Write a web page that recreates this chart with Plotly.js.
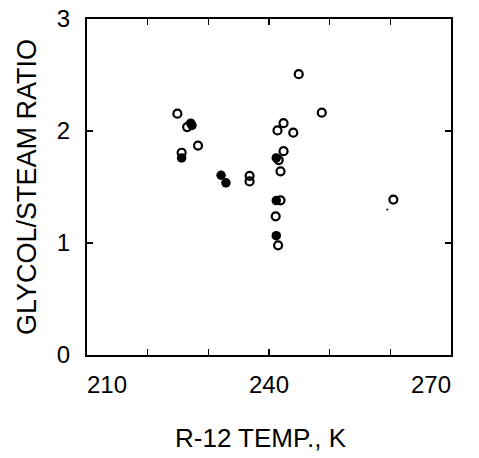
<!DOCTYPE html>
<html>
<head>
<meta charset="utf-8">
<script src="https://cdn.plot.ly/plotly-3.0.1.min.js"></script>
<style>html,body{margin:0;padding:0;background:#fff;}#chart{width:479px;height:458px;}</style>
</head>
<body>
<div id="chart"></div>
<script>
// Open-circle data points (R-12 temperature K, glycol/steam ratio)
const openTemp  = [224.9, 226.5, 228.3, 225.6, 236.8, 236.8, 244.9, 248.7, 242.4, 241.4, 244.0, 242.4, 241.6, 241.9, 241.9, 241.1, 241.5, 260.5];
const openRatio = [2.155, 2.035, 1.87, 1.806, 1.60, 1.55, 2.507, 2.164, 2.07, 2.005, 1.985, 1.82, 1.74, 1.64, 1.381, 1.238, 0.979, 1.388];
// Filled-circle data points
const fillTemp  = [227.3, 227.1, 225.6, 232.1, 232.9, 241.2, 241.2, 241.2];
const fillRatio = [2.05, 2.07, 1.76, 1.605, 1.537, 1.76, 1.379, 1.065];
// Small stray dot
const dotTemp  = [259.5];
const dotRatio = [1.30];
// Axis ticks
const xTickVals = [210, 220, 230, 240, 250, 260, 270];
const xLabelVals = [210, 240, 270];
const xLabelText = ['210', '240', '270'];
const yTickVals = [0, 1, 2, 3];
const yTickText = ['0', '1', '2', '3'];

const fontFam = 'Liberation Sans, Arial, Helvetica, sans-serif';

const traces = [
  {x: openTemp, y: openRatio, type: 'scatter', mode: 'markers',
   marker: {symbol: 'circle-open', size: 8, color: '#000', line: {width: 2.2, color: '#000'}},
   hoverinfo: 'x+y', showlegend: false},
  {x: fillTemp, y: fillRatio, type: 'scatter', mode: 'markers',
   marker: {symbol: 'circle', size: 9.5, color: '#000'},
   hoverinfo: 'x+y', showlegend: false},
  {x: dotTemp, y: dotRatio, type: 'scatter', mode: 'markers',
   marker: {symbol: 'circle', size: 2, color: '#000'},
   hoverinfo: 'x+y', showlegend: false}
];

const xShifts = [20, 0, -20];
const annotations = xLabelVals.map((v, i) => ({
  x: v, y: 0, xref: 'x', yref: 'paper', yanchor: 'top', xanchor: 'center',
  xshift: xShifts[i], yshift: -14, showarrow: false,
  text: xLabelText[i], font: {size: 24, family: fontFam, color: '#000'}
}));
annotations.push({
  x: 0.5, y: 0, xref: 'paper', yref: 'paper', yanchor: 'top', xanchor: 'center',
  xshift: -8, yshift: -66, showarrow: false,
  text: 'R-12 TEMP., K', font: {size: 26, family: fontFam, color: '#000'}
});

const layout = {
  width: 479, height: 458,
  margin: {l: 87, r: 28, t: 19, b: 103},
  paper_bgcolor: '#fff', plot_bgcolor: '#fff',
  font: {family: fontFam, color: '#000'},
  annotations: annotations,
  xaxis: {
    range: [210, 270], tickvals: xTickVals, showticklabels: false,
    ticks: 'inside', ticklen: 6, tickwidth: 1.5, tickcolor: '#000',
    showline: true, linecolor: '#000', linewidth: 2, mirror: 'ticks',
    showgrid: false, zeroline: false
  },
  yaxis: {
    range: [0, 3], tickvals: yTickVals, ticktext: yTickText,
    ticks: 'inside', ticklen: 6, tickwidth: 1.5, tickcolor: '#000',
    showline: true, linecolor: '#000', linewidth: 2, mirror: 'ticks',
    showgrid: false, zeroline: false,
    tickfont: {size: 24, family: fontFam}, ticklabelstandoff: 10,
    title: {text: 'GLYCOL/STEAM RATIO', font: {size: 27, family: fontFam}, standoff: 12}
  }
};

Plotly.newPlot('chart', traces, layout, {staticPlot: true, displayModeBar: false});
</script>
</body>
</html>
